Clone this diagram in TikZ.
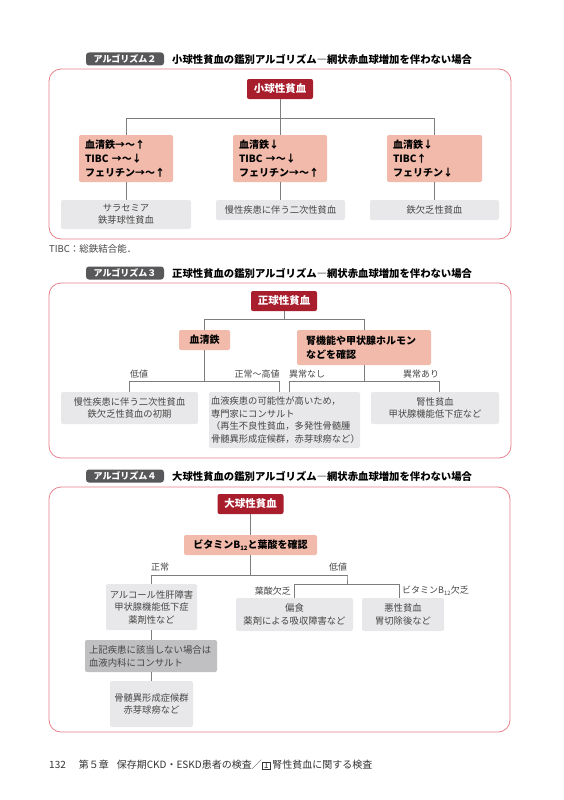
\documentclass[tikz,border=0pt]{standalone}
\usepackage{fontspec}
\setmainfont{Noto Sans CJK JP}
\usetikzlibrary{calc}
\definecolor{cRoot}{RGB}{168,30,45}
\definecolor{cSalmon}{RGB}{241,186,170}
\definecolor{cLight}{RGB}{232,232,234}
\definecolor{cMid}{RGB}{192,192,194}
\definecolor{cFrame}{RGB}{232,130,140}
\definecolor{cTag}{RGB}{88,88,90}
\definecolor{cLine}{RGB}{125,125,125}
\definecolor{cText}{RGB}{70,70,70}
\tikzset{
 conn/.style={draw=cLine, line width=0.9pt},
 rootbox/.style={fill=cRoot, text=white, rounded corners=2pt, inner sep=0pt, font=\bfseries\fontsize{10.5}{12}\selectfont},
 salbox/.style={fill=cSalmon, rounded corners=2pt, inner xsep=6pt, inner ysep=0pt, font=\bfseries\fontsize{10}{14}\selectfont, align=left, text=black},
 salc/.style={fill=cSalmon, rounded corners=2pt, inner sep=0pt, font=\bfseries\fontsize{10}{14}\selectfont, align=center, text=black},
 graybox/.style={fill=cLight, rounded corners=2pt, inner sep=0pt, font=\fontsize{9.3}{12.5}\selectfont, align=center, text=cText},
 grayleft/.style={fill=cLight, rounded corners=2pt, inner xsep=2pt, inner ysep=0pt, font=\fontsize{9.3}{12.7}\selectfont, align=left, text=cText},
 darkbox/.style={fill=cMid, rounded corners=2pt, inner xsep=4pt, inner ysep=0pt, font=\fontsize{9.4}{13}\selectfont, align=left, text=cText},
 lbl/.style={font=\fontsize{9}{10}\selectfont, text=cText, inner sep=0pt},
 frame/.style={draw=cFrame, line width=0.8pt, rounded corners=12pt},
 tag/.style={fill=cTag, text=white, rounded corners=3pt, font=\bfseries\fontsize{9}{10}\selectfont, inner sep=0pt, minimum width=78pt, minimum height=13pt},
 ttl/.style={anchor=west, inner sep=0pt, font=\bfseries\fontsize{10.35}{12}\selectfont},
 note/.style={anchor=west, inner sep=0pt, font=\fontsize{9.5}{11}\selectfont, text=cText},
}
\newcommand{\Btw}{B\raisebox{-0.4ex}{\fontsize{6}{6}\selectfont 12}}
\begin{document}
\begin{tikzpicture}[x=1pt,y=-1pt]
\useasboundingbox (0,0) rectangle (564,800);
\fill[white] (0,0) rectangle (564,800);

% ===== Algorithm 2 =====
\node[tag] (t2) at (125,59) {アルゴリズム２};
\node[ttl] (tt2) at (172,59.5) {小球性貧血の鑑別アルゴリズム―網状赤血球増加を伴わない場合};
\draw[frame] (49,69) rectangle (511,239);
\node[rootbox, minimum width=66pt, minimum height=20pt] (r2) at (280,89) {小球性貧血};
\node[salbox, minimum width=94pt, minimum height=47pt, text width=82pt] (a1) at (126,158.5) {血清鉄→〜↑\\TIBC →〜↓\\フェリチン→〜↑};
\node[salbox, minimum width=94pt, minimum height=47pt, text width=82pt] (a2) at (280,158.5) {血清鉄↓\\TIBC →〜↓\\フェリチン→〜↑};
\node[salbox, minimum width=95pt, minimum height=47pt, text width=83pt] (a3) at (434.5,158.5) {血清鉄↓\\TIBC↑\\フェリチン↓};
\node[graybox, minimum width=130pt, minimum height=29pt] (b1) at (126,214.5) {サラセミア\\鉄芽球性貧血};
\node[graybox, minimum width=129pt, minimum height=20pt] (b2) at (280.5,210) {慢性疾患に伴う二次性貧血};
\node[graybox, minimum width=129pt, minimum height=20pt] (b3) at (434.5,210) {鉄欠乏性貧血};
\draw[conn] (r2.south) -- (a2.north);
\draw[conn] (a1.north) -- ++(0,-16) -| (a3.north);
\draw[conn] (a1.south) -- (a1.south |- b1.north);
\draw[conn] (a2.south) -- (a2.south |- b2.north);
\draw[conn] (a3.south) -- (a3.south |- b3.north);
\node[note] (n2) at (49,249) {TIBC：総鉄結合能．};

% ===== Algorithm 3 =====
\node[tag] (t3) at (125,273) {アルゴリズム３};
\node[ttl] (tt3) at (172,273.5) {正球性貧血の鑑別アルゴリズム―網状赤血球増加を伴わない場合};
\draw[frame] (49,283) rectangle (511,458);
\node[rootbox, minimum width=66pt, minimum height=20pt] (r3) at (284,301) {正球性貧血};
\node[salc, minimum width=51pt, minimum height=20pt] (c1) at (204.5,340) {血清鉄};
\node[salbox, inner xsep=9pt, minimum width=134pt, minimum height=35pt, text width=116pt] (c2) at (364,347.5) {腎機能や甲状腺ホルモン\\などを確認};
\draw[conn] (r3.south) -- ++(0,9);
\draw[conn] (c1.north) -- ++(0,-10) -| (c2.north);
\node[graybox, minimum width=137pt, minimum height=32pt] (d1) at (129.5,408) {慢性疾患に伴う二次性貧血\\鉄欠乏性貧血の初期};
\node[grayleft, minimum width=151pt, minimum height=56pt, text width=147pt] (d2) at (284.5,420) {血液疾患の可能性が高いため，\\専門家にコンサルト\\（再生不良性貧血，多発性骨髄腫\\骨髄異形成症候群，赤芽球癆など）};
\node[graybox, minimum width=128pt, minimum height=32pt] (d3) at (435,408) {腎性貧血\\甲状腺機能低下症など};
\coordinate (d2l) at ([xshift=-5.5pt]d2.north);
\coordinate (d2r) at ([xshift=4.5pt]d2.north);
\coordinate (d3c) at ([xshift=4pt]d3.north);
\draw[conn] (c1.south) -- ++(0,32);
\draw[conn] (d1.north) -- ++(0,-10) -| (d2l);
\draw[conn] (c2.south) -- ++(0,17);
\draw[conn] (d2r) -- ++(0,-10) -| (d3c);
\node[lbl] (l31) at (139,374) {低値};
\node[lbl] (l32) at (257,374) {正常〜高値};
\node[lbl] (l33) at (307,374) {異常なし};
\node[lbl] (l34) at (421,374) {異常あり};

% ===== Algorithm 4 =====
\node[tag] (t4) at (125,476) {アルゴリズム４};
\node[ttl] (tt4) at (172,476.5) {大球性貧血の鑑別アルゴリズム―網状赤血球増加を伴わない場合};
\draw[frame] (49,487) rectangle (510,732);
\node[rootbox, minimum width=66pt, minimum height=20pt] (r4) at (250.5,504) {大球性貧血};
\node[salc, minimum width=133pt, minimum height=20pt] (v4) at (250.5,545) {ビタミン\Btw と葉酸を確認};
\draw[conn] (r4.south) -- (v4.north);
\node[graybox, minimum width=91pt, minimum height=46pt] (e1) at (151.5,607) {アルコール性肝障害\\甲状腺機能低下症\\薬剤性など};
\node[darkbox, minimum width=132pt, minimum height=32pt, text width=124pt] (e2) at (151,656) {上記疾患に該当しない場合は\\血液内科にコンサルト};
\node[graybox, minimum width=83pt, minimum height=46pt] (e3) at (151.5,704) {骨髄異形成症候群\\赤芽球癆など};
\node[graybox, minimum width=117pt, minimum height=33pt] (f1) at (294.5,614.5) {偏食\\薬剤による吸収障害など};
\node[graybox, minimum width=82pt, minimum height=33pt] (f2) at (403,614.5) {悪性貧血\\胃切除後など};
\coordinate (g4) at (347,576);
\coordinate (f2c) at ([xshift=-4pt]f2.north);
\draw[conn] (v4.south) -- (v4.south |- g4);
\draw[conn] (e1.north) -- ++(0,-8) -| (g4) -- ++(0,9);
\draw[conn] (f1.north) -- ++(0,-13) -| (f2c);
\draw[conn] (e1.south) -- (e1.south |- e2.north);
\draw[conn] (e2.south) -- (e2.south |- e3.north);
\node[lbl] (l41) at (160,567) {正常};
\node[lbl] (l42) at (338,567) {低値};
\node[lbl, anchor=east] (l43) at (291,591) {葉酸欠乏};
\node[lbl, anchor=west] (l44) at (402,591) {ビタミン\Btw 欠乏};

% ===== footer =====
\node[note, font=\fontsize{10}{11}\selectfont, text=black!80] (ft) at (49,765) {132\hspace{1.3em}第５章\hspace{0.8em}保存期CKD・ESKD患者の検査／{\setlength{\fboxsep}{0.3pt}\setlength{\fboxrule}{0.4pt}\fbox{\fontsize{8.5}{8.5}\selectfont\,1\,}}\,腎性貧血に関する検査};
\end{tikzpicture}
\end{document}
